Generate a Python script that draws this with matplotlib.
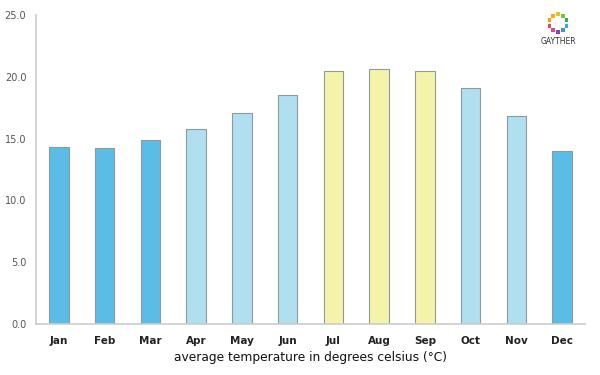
import numpy as np
import matplotlib
matplotlib.use('Agg')
import matplotlib.pyplot as plt

#Chart data
months = ['Jan', 'Feb', 'Mar', 'Apr', 'May', 'Jun',
          'Jul', 'Aug', 'Sep', 'Oct', 'Nov', 'Dec']
temps = [14.3, 14.2, 14.9, 15.8, 17.1, 18.5, 20.5, 20.6, 20.5, 19.1, 16.8, 14.0]
seasons = ['cold', 'cold', 'cold', 'mild', 'mild', 'mild',
           'hot', 'hot', 'hot', 'mild', 'mild', 'cold']
y_ticks = [0, 5, 10, 15, 20, 25]

season_colors = {'cold': '#5bbde6', 'mild': '#b0dff0', 'hot': '#f3f4aa'}
colors = [season_colors[s] for s in seasons]

fig = plt.figure(figsize=(6, 3.75), dpi=100)
ax = fig.add_axes([0.06, 0.136, 0.915, 0.824])

x = np.arange(len(months))
ax.bar(x, temps, width=0.43, color=colors, edgecolor='#8f9a9e', linewidth=0.8)

ax.set_xlim(-0.5, 11.5)
ax.set_ylim(0, 25)
ax.set_yticks(y_ticks)
ax.set_yticklabels(['%.1f' % t for t in y_ticks], fontsize=7, color='#555555')
ax.set_xticks(x)
ax.set_xticklabels(months, fontsize=7.5, color='#222222', fontweight='semibold')
ax.tick_params(length=0)
ax.tick_params(axis='x', pad=9)
ax.tick_params(axis='y', pad=7)

for side in ['top', 'right']:
    ax.spines[side].set_visible(False)
for side in ['left', 'bottom']:
    ax.spines[side].set_color('#cccccc')
    ax.spines[side].set_linewidth(1.2)

fig.text(0.517, 0.048, 'average temperature in degrees celsius (\u00b0C)',
         ha='center', va='center', fontsize=8.8, color='#111111')

#Logo
logo_colors = ['#f1c40f', '#7dc242', '#27ae60', '#2bb3c0', '#3498db',
               '#8e44ad', '#e84393', '#e84c3d', '#f39c12', '#f5a623']
angles = np.pi / 2 - np.linspace(0, 2 * np.pi, len(logo_colors), endpoint=False)
cx, cy = 558, 352
lx = cx + 9 * np.cos(angles)
ly = cy + 9 * np.sin(angles)
fig.add_artist(plt.Line2D([], []))
ax.scatter(lx, ly, s=7, c=logo_colors, marker='s', transform=None, clip_on=False,
           linewidths=0)
fig.text(0.93, 0.888, 'GAYTHER', ha='center', va='center', fontsize=5.5, color='#333333')

plt.savefig('out.png', dpi=100)
